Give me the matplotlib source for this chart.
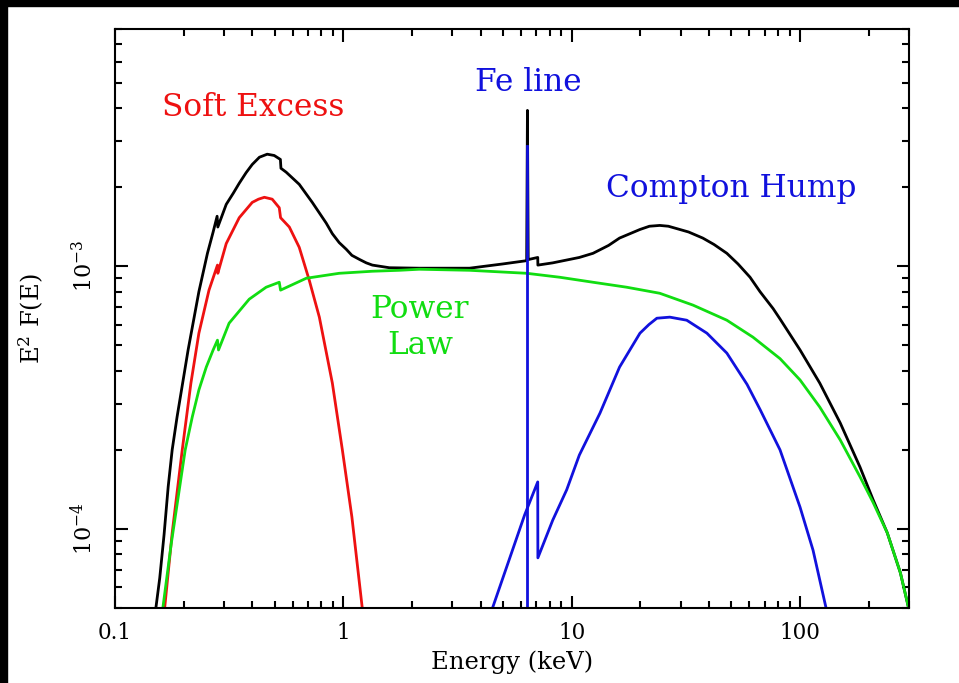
#!/usr/bin/env python3
import matplotlib
matplotlib.use('Agg')
import matplotlib.pyplot as plt
from matplotlib.patches import Rectangle
from matplotlib.ticker import FixedLocator, FixedFormatter, LogLocator, NullFormatter

# Energies (keV) and E^2 F(E) values

# Total model (black)
TOTAL_E = [0.151, 0.157, 0.164, 0.171, 0.178, 0.187, 0.209, 0.233, 0.254, 0.269,
           0.280, 0.282, 0.307, 0.330, 0.350, 0.375, 0.399, 0.429, 0.464, 0.498,
           0.530, 0.533, 0.562, 0.641, 0.731, 0.841, 0.895, 0.959, 1.03, 1.09,
           1.18, 1.26, 1.34, 1.59, 2.15, 3.57, 4.98, 6.35, 6.40, 6.45,
           7.10, 7.11, 8.26, 10.8, 12.4, 14.5, 16.2, 19.9, 21.9, 24.3,
           26.5, 28.9, 32.5, 37.5, 42.0, 47.8, 53.5, 60.4, 66.8, 76.2,
           81.7, 100, 122, 150, 183, 209, 241, 275, 298, 300]
TOTAL_F = [5.0e-5, 6.5e-5, 9.5e-5, 1.45e-4, 2.00e-4, 2.67e-4, 4.80e-4, 8.0e-4, 1.12e-3, 1.35e-3,
           1.55e-3, 1.41e-3, 1.72e-3, 1.90e-3, 2.07e-3, 2.27e-3, 2.44e-3, 2.60e-3, 2.67e-3, 2.64e-3,
           2.55e-3, 2.36e-3, 2.28e-3, 2.05e-3, 1.75e-3, 1.46e-3, 1.33e-3, 1.23e-3, 1.16e-3, 1.10e-3,
           1.06e-3, 1.03e-3, 1.01e-3, 9.87e-4, 9.83e-4, 9.83e-4, 1.02e-3, 1.05e-3, 3.92e-3, 1.06e-3,
           1.08e-3, 1.01e-3, 1.03e-3, 1.08e-3, 1.12e-3, 1.20e-3, 1.28e-3, 1.38e-3, 1.42e-3, 1.43e-3,
           1.42e-3, 1.39e-3, 1.35e-3, 1.28e-3, 1.21e-3, 1.12e-3, 1.02e-3, 9.08e-4, 8.0e-4, 6.9e-4,
           6.3e-4, 4.80e-4, 3.59e-4, 2.53e-4, 1.72e-4, 1.29e-4, 9.66e-5, 6.81e-5, 5.05e-5, 5.0e-5]

# Soft excess (red)
SOFT_E = [0.165, 0.178, 0.197, 0.215, 0.233, 0.258, 0.281, 0.282, 0.307, 0.350,
          0.399, 0.425, 0.451, 0.488, 0.524, 0.531, 0.580, 0.641, 0.709, 0.785,
          0.895, 0.990, 1.09, 1.21]
SOFT_F = [5.0e-5, 9.66e-5, 2.0e-4, 3.59e-4, 5.56e-4, 8.11e-4, 1.01e-3, 9.40e-4, 1.22e-3, 1.53e-3,
          1.75e-3, 1.80e-3, 1.83e-3, 1.80e-3, 1.67e-3, 1.53e-3, 1.41e-3, 1.18e-3, 8.85e-4, 6.40e-4,
          3.59e-4, 2.0e-4, 1.11e-4, 5.0e-5]

# Power law (green)
POWER_E = [0.162, 0.176, 0.203, 0.218, 0.233, 0.251, 0.269, 0.281, 0.284, 0.316,
           0.387, 0.459, 0.524, 0.531, 0.688, 0.959, 1.34, 1.76, 2.15, 3.57,
           6.35, 8.86, 12.4, 17.4, 24.3, 34.0, 47.8, 62.2, 81.7, 100,
           122, 150, 183, 209, 241, 275, 298, 300]
POWER_F = [5.0e-5, 8.69e-5, 2.0e-4, 2.67e-4, 3.38e-4, 4.13e-4, 4.80e-4, 5.23e-4, 4.80e-4, 6.07e-4,
           7.49e-4, 8.32e-4, 8.69e-4, 8.11e-4, 9.00e-4, 9.40e-4, 9.57e-4, 9.65e-4, 9.74e-4, 9.65e-4,
           9.40e-4, 9.08e-4, 8.69e-4, 8.32e-4, 7.89e-4, 7.11e-4, 6.23e-4, 5.37e-4, 4.45e-4, 3.69e-4,
           2.91e-4, 2.18e-4, 1.58e-4, 1.26e-4, 9.66e-5, 6.81e-5, 5.05e-5, 5.0e-5]

# Compton hump (blue)
HUMP_E = [4.50, 6.22, 7.10, 7.11, 8.26, 9.51, 10.8, 13.3, 16.2, 19.9,
          21.8, 23.6, 26.9, 31.9, 39.1, 47.8, 58.6, 66.8, 81.7, 100,
          114, 130]
HUMP_F = [5.0e-5, 1.13e-4, 1.51e-4, 7.76e-5, 1.08e-4, 1.41e-4, 1.91e-4, 2.76e-4, 4.13e-4, 5.56e-4,
          6.0e-4, 6.34e-4, 6.40e-4, 6.23e-4, 5.56e-4, 4.67e-4, 3.55e-4, 2.85e-4, 2.0e-4, 1.21e-4,
          8.3e-5, 5.0e-5]

# Fe line (blue)
FE_E = [6.40, 6.40]
FE_F = [1.0e-6, 2.88e-3]

X_TICKS = [0.1, 1, 10, 100]
X_TICK_LABELS = ['0.1', '1', '10', '100']
Y_TICKS = [1e-4, 1e-3]
Y_TICK_LABELS = [r'$10^{-4}$', r'$10^{-3}$']

RED = '#ee1111'
GREEN = '#11dd11'
BLUE = '#1111dd'

plt.rcParams['font.family'] = 'DejaVu Serif'
plt.rcParams['mathtext.fontset'] = 'dejavuserif'

fig = plt.figure(figsize=(9.59, 6.83), dpi=100)
fig.patch.set_facecolor('white')
# black strips along the top and left edge of the original screenshot
fig.patches.append(Rectangle((0, 1 - 6 / 683), 1, 6 / 683, transform=fig.transFigure, color='black'))
fig.patches.append(Rectangle((0, 0), 7 / 959, 1, transform=fig.transFigure, color='black'))

ax = fig.add_axes([115 / 959, 1 - 608 / 683, 794 / 959, 579 / 683])
ax.set_xscale('log')
ax.set_yscale('log')

ax.plot(TOTAL_E, TOTAL_F, color='black', linewidth=2.0)
ax.plot(SOFT_E, SOFT_F, color=RED, linewidth=2.0)
ax.plot(POWER_E, POWER_F, color=GREEN, linewidth=2.0)
ax.plot(HUMP_E, HUMP_F, color=BLUE, linewidth=2.0)
ax.plot(FE_E, FE_F, color=BLUE, linewidth=2.0)

ax.set_xlim(0.1, 300)
ax.set_ylim(5e-5, 8e-3)

ax.xaxis.set_major_locator(FixedLocator(X_TICKS))
ax.xaxis.set_major_formatter(FixedFormatter(X_TICK_LABELS))
ax.xaxis.set_minor_locator(LogLocator(base=10, subs=range(2, 10)))
ax.xaxis.set_minor_formatter(NullFormatter())
ax.yaxis.set_major_locator(FixedLocator(Y_TICKS))
ax.yaxis.set_major_formatter(FixedFormatter(Y_TICK_LABELS))
ax.yaxis.set_minor_locator(LogLocator(base=10, subs=range(2, 10)))
ax.yaxis.set_minor_formatter(NullFormatter())

ax.tick_params(which='both', direction='in', top=True, right=True, width=1.5, color='black')
ax.tick_params(which='major', length=9)
ax.tick_params(which='minor', length=5)
ax.tick_params(axis='x', labelsize=15.5, pad=10)
ax.tick_params(axis='y', labelsize=16, pad=13)
plt.setp(ax.get_yticklabels(), rotation=90, va='center')
for spine in ax.spines.values():
    spine.set_linewidth(1.5)

ax.set_xlabel('Energy (keV)', fontsize=17.5)
ax.set_ylabel(r'E$^2$ F(E)', fontsize=17.5)
ax.xaxis.set_label_coords(0.5, -0.073)
ax.yaxis.set_label_coords(-0.087, 0.5)

ax.text(0.174, 0.864, 'Soft Excess', color=RED, fontsize=22.5, ha='center', va='center', transform=ax.transAxes)
ax.text(0.521, 0.908, 'Fe line', color=BLUE, fontsize=22.5, ha='center', va='center', transform=ax.transAxes)
ax.text(0.776, 0.725, 'Compton Hump', color=BLUE, fontsize=22.5, ha='center', va='center', transform=ax.transAxes)
ax.text(0.384, 0.485, 'Power\nLaw', color=GREEN, fontsize=22.5, ha='center', va='center',
        linespacing=1.2, transform=ax.transAxes)

fig.savefig('out.png', dpi=100, facecolor='white')
